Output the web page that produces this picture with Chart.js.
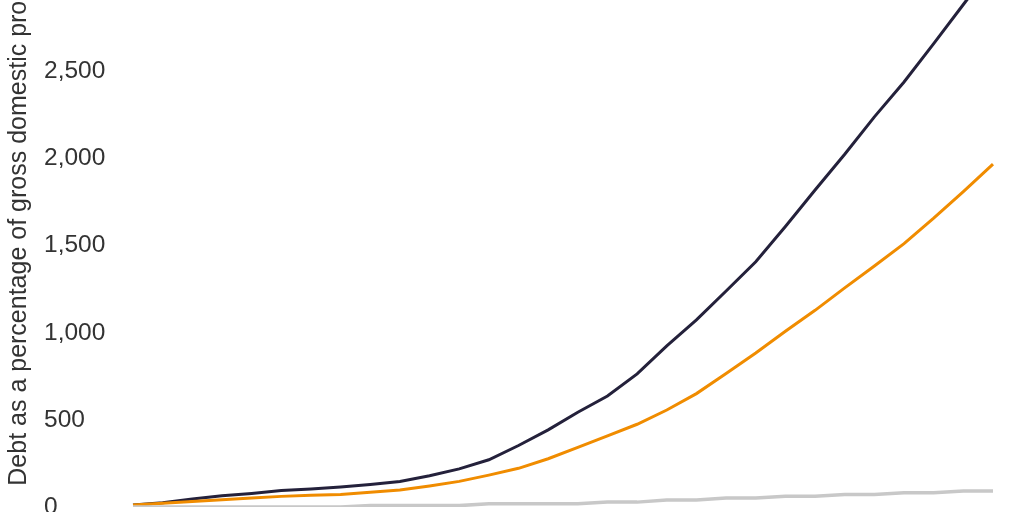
<!DOCTYPE html>
<html>
<head>
<meta charset="utf-8">
<script src="https://cdn.jsdelivr.net/npm/chart.js@4.4.1/dist/chart.umd.min.js"></script>
<style>
  html, body { margin: 0; padding: 0; background: #fff; overflow: hidden; width: 1024px; height: 512px; }
  #wrap { position: absolute; left: 0; top: -90px; width: 1024px; height: 710px; }
</style>
</head>
<body>
<div id="wrap"><canvas id="debtChart"></canvas></div>
<script>
// Years on the x axis (labels fall below the visible crop)
const years = [
  2025, 2026, 2027, 2028, 2029, 2030, 2031, 2032, 2033, 2034,
  2035, 2036, 2037, 2038, 2039, 2040, 2041, 2042, 2043, 2044,
  2045, 2046, 2047, 2048, 2049, 2050, 2051, 2052, 2053, 2054
];

// Debt as a percentage of GDP
const darkSeries = [
  12, 24, 46, 64, 78, 95, 104, 115, 129, 146,
  179, 219, 271, 353, 443, 544, 637, 764, 925, 1074,
  1240, 1408, 1610, 1820, 2025, 2240, 2440, 2660, 2885, 3110
];
const orangeSeries = [
  12, 22, 32, 42, 52, 61, 67, 72, 84, 98,
  121, 147, 183, 222, 277, 342, 408, 475, 557, 651,
  767, 884, 1009, 1129, 1258, 1384, 1512, 1658, 1811, 1968
];
const graySeries = [
  0, 0, 0, 0, 0, 0, 0, 0, 8, 8,
  8, 8, 18, 18, 18, 18, 28, 28, 40, 40,
  52, 52, 62, 62, 72, 72, 82, 82, 92, 92
];

const yTicks = [0, 500, 1000, 1500, 2000, 2500, 3000];
const yMax = 3300;

const fontFamily = "'Liberation Sans', Arial, sans-serif";
const textColor = '#333333';

const withCommas = (v) => String(v).replace(/\B(?=(\d{3})+(?!\d))/g, ',');

new Chart(document.getElementById('debtChart'), {
  type: 'line',
  data: {
    labels: years,
    datasets: [
      { label: 'Gray', data: graySeries, yAxisID: 'y', borderColor: '#c8c8c8', borderWidth: 3.5, pointRadius: 0, tension: 0 },
      { label: 'Orange', data: orangeSeries, yAxisID: 'y', borderColor: '#f08c00', borderWidth: 3, pointRadius: 0, tension: 0 },
      { label: 'Dark', data: darkSeries, yAxisID: 'y', borderColor: '#24213b', borderWidth: 3, pointRadius: 0, tension: 0 }
    ]
  },
  options: {
    responsive: true, maintainAspectRatio: false, animation: false,
    layout: { padding: { top: 22.2, right: 31, bottom: 0, left: 0 } },
    plugins: { legend: { display: false }, tooltip: { enabled: false } },
    scales: {
      x: {
        grid: { display: false }, border: { display: false },
        ticks: { color: textColor, font: { family: fontFamily, size: 24 }, maxRotation: 0, autoSkip: true },
        afterFit: (s) => { s.height = 113; }
      },
      y: {
        position: 'left', weight: 0,
        min: 0, max: yMax,
        grid: { display: false, drawTicks: false }, border: { display: false },
        afterBuildTicks: (s) => { s.ticks = yTicks.map(v => ({ value: v })); },
        ticks: {
          color: textColor, crossAlign: 'far', padding: 0,
          font: { family: fontFamily, size: 24.5 },
          callback: (v) => withCommas(v)
        },
        afterFit: (s) => { s.width = 89; s.paddingTop = 0; s.paddingBottom = 0; }
      },
      // outer axis only carries the title
      yTitle: {
        type: 'linear', position: 'left', weight: 1,
        grid: { display: false }, border: { display: false },
        ticks: { display: false },
        title: {
          display: true, text: 'Debt as a percentage of gross domestic product',
          color: textColor, font: { family: fontFamily, size: 25 }, padding: { top: 4, bottom: 0 }
        },
        afterFit: (s) => { s.width = 44; s.paddingTop = 0; s.paddingBottom = 0; }
      }
    }
  }
});
</script>
</body>
</html>
